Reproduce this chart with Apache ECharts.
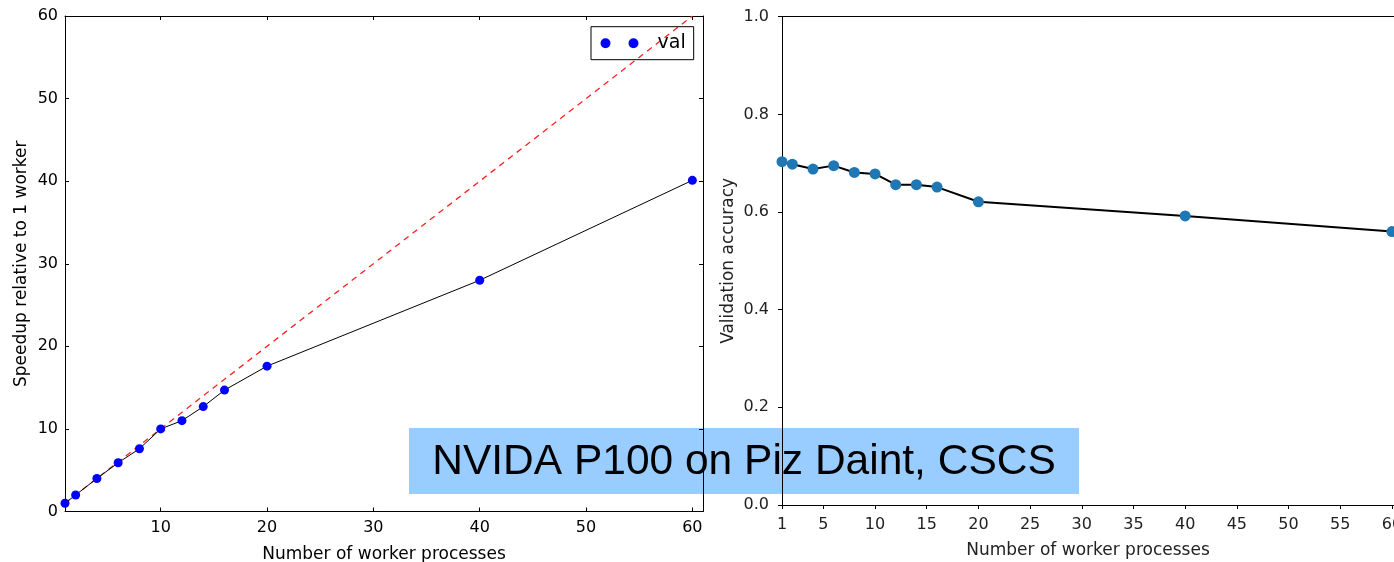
<!DOCTYPE html>
<html>
<head>
    <meta charset="utf-8">
    <title>Speedup and validation accuracy</title>
    <script src="https://cdn.jsdelivr.net/npm/echarts@6/dist/echarts.min.js"></script>
    <style>
        html, body { margin: 0; padding: 0; background: #fff; }
        #main { width: 1394px; height: 562px; }
    </style>
</head>
<body>
<div id="main"></div>
<script type="text/javascript">
    // left panel: speedup vs number of workers
    var speedupWorkers = [1, 2, 4, 6, 8, 10, 12, 14, 16, 20, 40, 60];
    var speedupValues = [1.0, 2.0, 4.0, 5.9, 7.6, 10.0, 11.0, 12.7, 14.7, 17.6, 28.0, 40.1];
    var idealWorkers = [1, 60];
    var idealValues = [1, 60];
    var leftXTicks = [10, 20, 30, 40, 50, 60];

    // right panel: validation accuracy vs number of workers
    var accWorkers = [1, 2, 4, 6, 8, 10, 12, 14, 16, 20, 40, 60];
    var accValues = [0.703, 0.698, 0.688, 0.695, 0.681, 0.678, 0.656, 0.656, 0.651, 0.621, 0.592, 0.560];
    var rightXTicks = [1, 5, 10, 15, 20, 25, 30, 35, 40, 45, 50, 55, 60];

    var overlayText = 'NVIDA P100 on Piz Daint, CSCS';

    function pairs(xs, ys) {
        var out = [];
        for (var i = 0; i < xs.length; i++) out.push([xs[i], ys[i]]);
        return out;
    }

    var font = 'DejaVu Sans';

    var myChart = echarts.init(document.getElementById('main'));
    var option = {
        animation: false,
        backgroundColor: '#fff',
        textStyle: {fontFamily: font},
        grid: [
            {left: 65, top: 16, right: 691, bottom: 50.5, outerBoundsMode: 'none', containLabel: false},
            {left: 782, top: 16.7, right: 0, bottom: 57, outerBoundsMode: 'none', containLabel: false}
        ],
        legend: {
            data: ['val'],
            top: 26.7,
            left: 591,
            orient: 'horizontal',
            icon: 'path://M0,5a5,5 0 1,0 10,0a5,5 0 1,0 -10,0M28,5a5,5 0 1,0 10,0a5,5 0 1,0 -10,0',
            itemWidth: 38,
            itemHeight: 10,
            padding: [7, 8, 7, 9.5],
            borderColor: '#000',
            borderWidth: 1,
            borderRadius: 0,
            textStyle: {fontFamily: font, fontSize: 19, color: '#000', padding: [0, 0, 0, 14]}
        },
        xAxis: [
            {
                gridIndex: 0, type: 'value', min: 1, max: 61, position: 'bottom',
                name: 'Number of worker processes', nameLocation: 'middle', nameGap: 35,
                nameTextStyle: {fontFamily: font, fontSize: 17, color: '#000'},
                axisLine: {show: true, onZero: false, lineStyle: {color: '#000', width: 1}},
                axisTick: {show: true, inside: true, length: 4, customValues: leftXTicks, lineStyle: {color: '#000'}},
                axisLabel: {customValues: leftXTicks, fontSize: 16, color: '#000', margin: 8},
                splitLine: {show: false}
            },
            {
                gridIndex: 0, type: 'value', min: 1, max: 61, position: 'top',
                axisLine: {show: true, onZero: false, lineStyle: {color: '#000', width: 1}},
                axisTick: {show: true, inside: true, length: 4, customValues: leftXTicks, lineStyle: {color: '#000'}},
                axisLabel: {show: false},
                splitLine: {show: false}
            },
            {
                gridIndex: 1, type: 'value', min: 1, max: 60.2, position: 'bottom',
                name: 'Number of worker processes', nameLocation: 'middle', nameGap: 37,
                nameTextStyle: {fontFamily: font, fontSize: 17, color: '#222'},
                axisLine: {show: true, onZero: false, lineStyle: {color: '#000', width: 1}},
                axisTick: {show: true, inside: false, length: 4, customValues: rightXTicks, lineStyle: {color: '#000'}},
                axisLabel: {customValues: rightXTicks, fontSize: 16, color: '#222', margin: 12},
                splitLine: {show: false}
            },
            {
                gridIndex: 1, type: 'value', min: 1, max: 60.2, position: 'top',
                axisLine: {show: true, onZero: false, lineStyle: {color: '#000', width: 1}},
                axisTick: {show: false},
                axisLabel: {show: false},
                splitLine: {show: false}
            }
        ],
        yAxis: [
            {
                gridIndex: 0, type: 'value', min: 0, max: 60, interval: 10, position: 'left',
                name: 'Speedup relative to 1 worker', nameLocation: 'middle', nameGap: 35,
                nameTextStyle: {fontFamily: font, fontSize: 17, color: '#000'},
                axisLine: {show: true, onZero: false, lineStyle: {color: '#000', width: 1}},
                axisTick: {show: true, inside: true, length: 4, lineStyle: {color: '#000'}},
                axisLabel: {fontSize: 16, color: '#000', margin: 7},
                splitLine: {show: false}
            },
            {
                gridIndex: 0, type: 'value', min: 0, max: 60, interval: 10, position: 'right',
                axisLine: {show: true, onZero: false, lineStyle: {color: '#000', width: 1}},
                axisTick: {show: true, inside: true, length: 4, lineStyle: {color: '#000'}},
                axisLabel: {show: false},
                splitLine: {show: false}
            },
            {
                gridIndex: 1, type: 'value', min: 0, max: 1, interval: 0.2, position: 'left',
                name: 'Validation accuracy', nameLocation: 'middle', nameGap: 45,
                nameTextStyle: {fontFamily: font, fontSize: 17, color: '#222'},
                axisLine: {show: true, onZero: false, lineStyle: {color: '#000', width: 1}},
                axisTick: {show: true, inside: false, length: 4, lineStyle: {color: '#000'}},
                axisLabel: {fontSize: 16, color: '#222', margin: 13, formatter: function (v) { return v.toFixed(1); }},
                splitLine: {show: false}
            }
        ],
        series: [
            {
                name: 'ideal',
                type: 'line',
                xAxisIndex: 0, yAxisIndex: 0,
                data: pairs(idealWorkers, idealValues),
                showSymbol: false,
                symbol: 'none',
                lineStyle: {color: '#ff2020', width: 1.3, type: [6, 5]},
                z: 1
            },
            {
                name: 'val',
                type: 'line',
                xAxisIndex: 0, yAxisIndex: 0,
                data: pairs(speedupWorkers, speedupValues),
                symbol: 'circle',
                symbolSize: 9,
                itemStyle: {color: '#0000ff'},
                lineStyle: {color: '#000', width: 1},
                z: 2
            },
            {
                name: 'accuracy',
                type: 'line',
                xAxisIndex: 2, yAxisIndex: 2,
                data: pairs(accWorkers, accValues),
                symbol: 'circle',
                symbolSize: 11,
                itemStyle: {color: '#1f77b4'},
                lineStyle: {color: '#000', width: 2},
                z: 2
            }
        ],
        graphic: [
            {
                type: 'group',
                left: 409,
                top: 428,
                z: 100,
                children: [
                    {
                        type: 'rect',
                        shape: {x: 0, y: 0, width: 670, height: 66},
                        style: {fill: '#99ccff'}
                    },
                    {
                        type: 'text',
                        x: 335,
                        y: 34,
                        style: {
                            text: overlayText,
                            fontFamily: 'Liberation Sans',
                            fontSize: 42.5,
                            fill: '#000',
                            align: 'center',
                            verticalAlign: 'middle'
                        }
                    }
                ]
            }
        ]
    };

    option && myChart.setOption(option);
</script>
</body>
</html>
